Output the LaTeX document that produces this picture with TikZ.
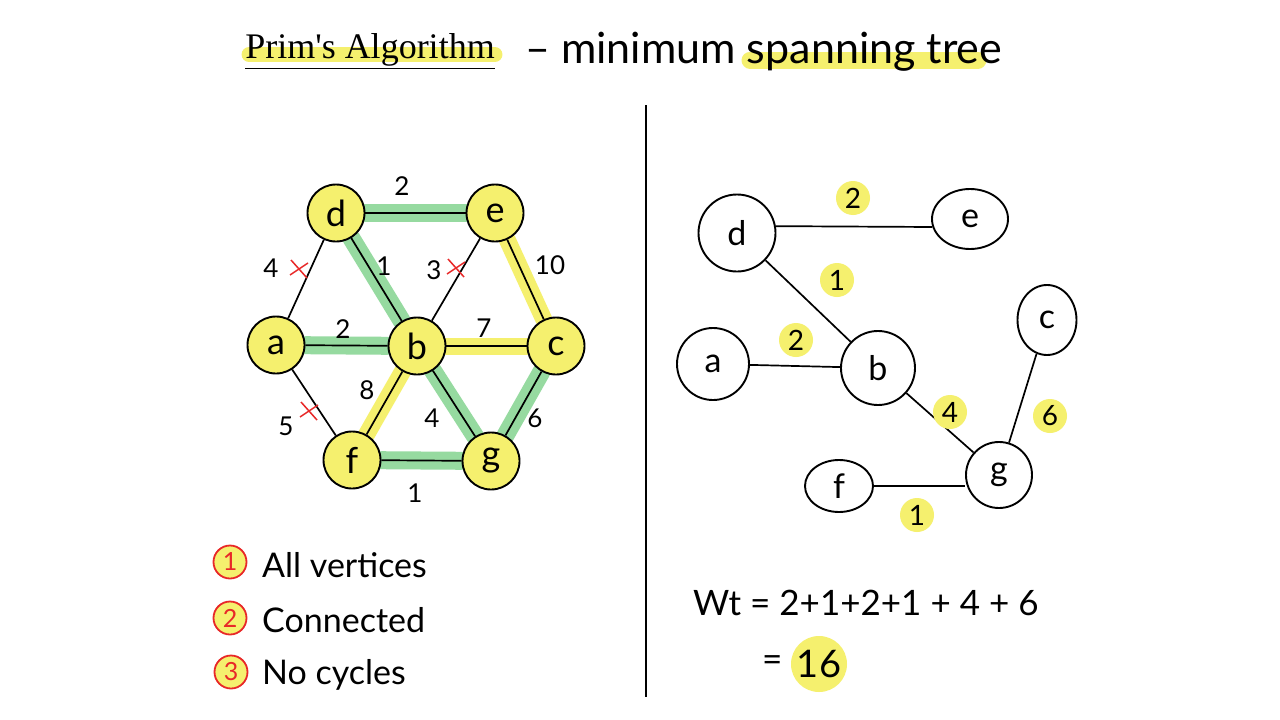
\documentclass[tikz,border=0pt]{standalone}
\usepackage{fontspec}
\setmainfont{Lato}
\newfontfamily\titlefont{Liberation Serif}
\usetikzlibrary{shapes.geometric,backgrounds}
\definecolor{hly}{RGB}{245,240,110}
\definecolor{hlg}{RGB}{150,218,160}
\definecolor{xred}{RGB}{232,40,40}
\begin{document}
\begin{tikzpicture}[x=1pt,y=-1pt,
  lnode/.style={circle,draw,line width=1.9pt,fill=hly,minimum size=57pt,inner sep=0pt,font=\fontsize{36}{40}\selectfont},
  rnode/.style={draw,line width=1.9pt,fill=white,inner sep=0pt,font=\fontsize{34}{38}\selectfont},
  edge/.style={line width=1.7pt},
  wlab/.style={font=\fontsize{26}{30}\selectfont,inner sep=0pt},
  rlab/.style={circle,fill=hly,minimum size=34pt,inner sep=0pt,font=\fontsize{28}{32}\selectfont},
  ghl/.style={line width=18pt,hlg,line cap=round},
  yhl/.style={line width=17pt,hly,line cap=round},
  xmark/.style={xred,line width=1.5pt},
  numbox/.style={circle,draw=xred,fill=hly,line width=1.8pt,minimum size=33pt,inner sep=0pt,text=xred,font=\fontsize{25}{28}\selectfont},
  listtext/.style={anchor=west,inner sep=0pt,font=\fontsize{34}{40}\selectfont},
]
\useasboundingbox (0,0) rectangle (1280,720);
\begin{scope}[on background layer]
  \coordinate (bg1) at (0,0);
  \coordinate (bg2) at (1280,720);
  \fill[white] (bg1) rectangle (bg2);
\end{scope}

% title
\node[font=\titlefont\fontsize{36}{40}\selectfont,inner sep=0pt] (title) at (370,51) {\underline{Prim's Algorithm}};
\node[anchor=west,font=\fontsize{43}{48}\selectfont,inner sep=0pt] (subtitle) at (525,52) {-- minimum spanning tree};
\begin{scope}[on background layer]
  \draw[line width=15pt,hly,line cap=round] (title.south west) ++(4,-14) coordinate (t1) -- (title.south east |- t1);
  \coordinate (s1) at (750,60);
  \coordinate (s2) at (978,60);
  \draw[line width=17pt,hly,line cap=round] (s1) -- (s2);
\end{scope}

% divider
\coordinate (v1) at (646,105);
\coordinate (v2) at (646,697);
\draw[line width=1.8pt] (v1) -- (v2);

% ---- left graph ----
\node[lnode] (d) at (336,213) {d};
\node[lnode] (e) at (495,213) {e};
\node[lnode] (a) at (276,345) {a};
\node[lnode] (b) at (417,346) {b};
\node[lnode] (c) at (556,346) {c};
\node[lnode] (f) at (352,460) {f};
\node[lnode] (g) at (491,461) {g};

\begin{scope}[on background layer]
  \draw[ghl] (d) -- (e);
  \draw[ghl] (d) -- (b);
  \draw[ghl] (a) -- (b);
  \draw[ghl] (b) -- (g);
  \draw[ghl] (c) -- (g);
  \draw[ghl] (f) -- (g);
  \draw[yhl] (e) -- (c);
  \draw[yhl] (b) -- (c);
  \draw[yhl] (b) -- (f);
  \draw[edge] (d) -- (e);
  \draw[edge] (d) -- (a);
  \draw[edge] (d) -- (b);
  \draw[edge] (e) -- (b);
  \draw[edge] (e) -- (c);
  \draw[edge] (a) -- (b);
  \draw[edge] (b) -- (c);
  \draw[edge] (a) -- (f);
  \draw[edge] (b) -- (f);
  \draw[edge] (b) -- (g);
  \draw[edge] (c) -- (g);
  \draw[edge] (f) -- (g);
\end{scope}

\node[wlab] (l1) at (402,186) {2};
\node[wlab] (l2) at (271,268) {4};
\node[wlab] (l3) at (384,266) {1};
\node[wlab] (l4) at (434,270) {3};
\node[wlab] (l5) at (550,265) {10};
\node[wlab] (l6) at (343,329) {2};
\node[wlab] (l7) at (484,328) {7};
\node[wlab] (l8) at (367,390) {8};
\node[wlab] (l9) at (432,418) {4};
\node[wlab] (l10) at (535,418) {6};
\node[wlab] (l11) at (286,426) {5};
\node[wlab] (l12) at (415,493) {1};

\coordinate (x1) at (299,269);
\coordinate (x2) at (456,268);
\coordinate (x3) at (309,411);
\foreach \p in {x1,x2,x3}{
  \draw[xmark] (\p) +(-8,-9) -- +(8,9);
  \draw[xmark] (\p) +(-9,6) -- +(9,-6);
}

% ---- right graph ----
\node[rnode,circle,minimum size=77pt] (rd) at (737,233) {d};
\node[rnode,ellipse,minimum width=76pt,minimum height=60pt] (re) at (970,219) {e};
\node[rnode,circle,minimum size=72pt] (ra) at (713,364) {a};
\node[rnode,circle,minimum size=74pt] (rb) at (878,368) {b};
\node[rnode,ellipse,minimum width=59pt,minimum height=70pt] (rc) at (1047,320) {c};
\node[rnode,ellipse,minimum width=68pt,minimum height=52pt] (rf) at (839,486) {f};
\node[rnode,circle,minimum size=66pt] (rg) at (999,475) {g};

\draw[edge] (rd.10) -- (re.192);
\draw[edge] (rd) -- (rb);
\draw[edge] (ra) -- (rb);
\draw[edge] (rb) -- (rg);
\draw[edge] (rc) -- (rg);
\draw[edge] (rf.east) -- (rf.east -| rg.west);

\node[rlab] (m1) at (853,198) {2};
\node[rlab] (m2) at (837,280) {1};
\node[rlab] (m3) at (796,340) {2};
\node[rlab] (m4) at (950,412) {4};
\node[rlab] (m5) at (1050,416) {6};
\node[rlab] (m6) at (917,515) {1};

% ---- bottom left list ----
\node[numbox] (n1) at (230,562) {1};
\node[numbox] (n2) at (230,618) {2};
\node[numbox] (n3) at (231,672) {3};
\node[listtext] (t1) at (262,565) {All vertices};
\node[listtext] (t2) at (262,620) {Connected};
\node[listtext] (t3) at (262,675) {No cycles};

% ---- weight ----
\node[anchor=west,inner sep=0pt,font=\fontsize{35}{40}\selectfont] (wt) at (693,603) {Wt = 2+1+2+1 + 4 + 6};
\node[anchor=west,inner sep=0pt,font=\fontsize{35}{40}\selectfont] (eq) at (762,664) {=};
\node[circle,fill=hly,minimum size=56pt,inner sep=0pt,font=\fontsize{38}{42}\selectfont] (sum) at (819,664) {16};
\end{tikzpicture}
\end{document}
